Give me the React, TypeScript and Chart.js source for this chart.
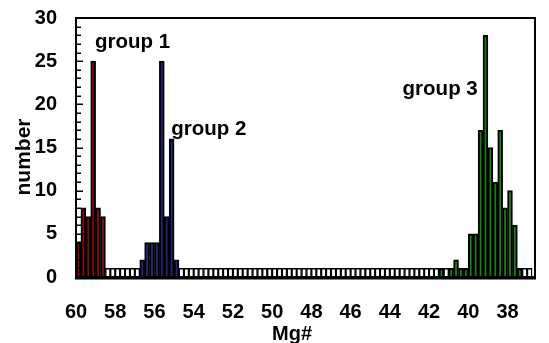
import { useEffect, useRef } from "react";
import { Chart, registerables } from "chart.js";

Chart.register(...registerables);

// Mg# bin centres (bins of 0.25, from 60 down to 36.75)
const mgBinCenters = [
  59.875, 59.625, 59.375, 59.125,
  58.875, 58.625, 58.375, 58.125,
  57.875, 57.625, 57.375, 57.125,
  56.875, 56.625, 56.375, 56.125,
  55.875, 55.625, 55.375, 55.125,
  54.875, 54.625, 54.375, 54.125,
  53.875, 53.625, 53.375, 53.125,
  52.875, 52.625, 52.375, 52.125,
  51.875, 51.625, 51.375, 51.125,
  50.875, 50.625, 50.375, 50.125,
  49.875, 49.625, 49.375, 49.125,
  48.875, 48.625, 48.375, 48.125,
  47.875, 47.625, 47.375, 47.125,
  46.875, 46.625, 46.375, 46.125,
  45.875, 45.625, 45.375, 45.125,
  44.875, 44.625, 44.375, 44.125,
  43.875, 43.625, 43.375, 43.125,
  42.875, 42.625, 42.375, 42.125,
  41.875, 41.625, 41.375, 41.125,
  40.875, 40.625, 40.375, 40.125,
  39.875, 39.625, 39.375, 39.125,
  38.875, 38.625, 38.375, 38.125,
  37.875, 37.625, 37.375, 37.125,
  36.875,
];

// counts per bin
const counts = [
  4, 8, 7, 25,
  8, 7, 1, 1,
  1, 1, 1, 1,
  1, 2, 4, 4,
  4, 25, 7, 16,
  2, 1, 1, 1,
  1, 1, 1, 1,
  1, 1, 1, 1,
  1, 1, 1, 1,
  1, 1, 1, 1,
  1, 1, 1, 1,
  1, 1, 1, 1,
  1, 1, 1, 1,
  1, 1, 1, 1,
  1, 1, 1, 1,
  1, 1, 1, 1,
  1, 1, 1, 1,
  1, 1, 1, 1,
  1, 1, 1, 1,
  1, 2, 1, 1,
  5, 5, 17, 28,
  15, 11, 17, 8,
  10, 6, 1, 1,
  1,
];

// group of each bin (0 = none)
const binGroups = [
  1, 1, 1, 1,
  1, 1, 0, 0,
  0, 0, 0, 0,
  0, 2, 2, 2,
  2, 2, 2, 2,
  2, 0, 0, 0,
  0, 0, 0, 0,
  0, 0, 0, 0,
  0, 0, 0, 0,
  0, 0, 0, 0,
  0, 0, 0, 0,
  0, 0, 0, 0,
  0, 0, 0, 0,
  0, 0, 0, 0,
  0, 0, 0, 0,
  0, 0, 0, 0,
  0, 0, 0, 0,
  0, 0, 0, 0,
  0, 0, 3, 0,
  3, 3, 3, 3,
  3, 3, 3, 3,
  3, 3, 3, 3,
  3, 3, 3, 0,
  0,
];

const xTickValues = [60, 58, 56, 54, 52, 50, 48, 46, 44, 42, 40, 38];
const yTickValues = [0, 5, 10, 15, 20, 25, 30];

const groupLabels = ["group 1", "group 2", "group 3"];
const groupLabelMg = [59.03, 55.15, 43.35];
const groupLabelCount = [27.2, 17.1, 21.7];

const groupFill = ["#ffffff", "#8a0a0a", "#24267c", "#178017"];
const FONT_FAMILY = "'Liberation Sans', Arial, sans-serif";

const decor = {
  id: "decor",
  afterDatasetsDraw(chart: any) {
    const { ctx, chartArea: a, scales } = chart;
    const xs = scales.x;
    const ys = scales.y;
    ctx.save();
    ctx.strokeStyle = "#000";
    ctx.lineWidth = 1.5;
    for (let v = 1; v < 30; v++) {
      const py = Math.round(ys.getPixelForValue(v)) + 0.25;
      const len = v % 5 === 0 ? 7 : 5;
      ctx.beginPath();
      ctx.moveTo(a.left, py);
      ctx.lineTo(a.left + len, py);
      ctx.stroke();
    }
    ctx.lineWidth = 2;
    ctx.strokeRect(a.left, a.top, a.right - a.left, a.bottom - a.top);
    ctx.lineWidth = 3;
    ctx.beginPath();
    ctx.moveTo(a.left - 1, a.bottom + 1);
    ctx.lineTo(a.right + 1, a.bottom + 1);
    ctx.stroke();

    ctx.fillStyle = "#000";
    ctx.font = `bold 20.5px ${FONT_FAMILY}`;
    ctx.textBaseline = "middle";
    ctx.textAlign = "left";
    groupLabels.forEach((t, k) => {
      ctx.fillText(t, xs.getPixelForValue(groupLabelMg[k]), ys.getPixelForValue(groupLabelCount[k]));
    });

    ctx.font = `bold 20px ${FONT_FAMILY}`;
    ctx.textAlign = "center";
    ctx.fillText("Mg#", 292, 334);
    ctx.save();
    ctx.translate(24, 157);
    ctx.rotate(-Math.PI / 2);
    ctx.font = `bold 21px ${FONT_FAMILY}`;
    ctx.fillText("number", 0, 0);
    ctx.restore();
    ctx.restore();
  },
};

export default function App() {
  const canvasRef = useRef<HTMLCanvasElement | null>(null);

  useEffect(() => {
    document.body.style.margin = "0";
    const canvas = canvasRef.current;
    if (!canvas) return;
    const tickFont = { family: FONT_FAMILY, size: 20, weight: "bold" as const };
    const chart = new Chart(canvas, {
      type: "bar",
      data: {
        datasets: [
          {
            data: mgBinCenters.map((m, i) => ({ x: m, y: counts[i] })),
            backgroundColor: binGroups.map((g) => groupFill[g]),
            borderColor: "#000",
            borderWidth: binGroups.map((g) => (g === 0 ? 1.4 : 1.95)),
            barPercentage: 1,
            categoryPercentage: 1,
          } as any,
        ],
      },
      options: {
        animation: false,
        responsive: true,
        maintainAspectRatio: false,
        layout: { padding: { top: 18, right: 14, left: 0, bottom: 0 } },
        plugins: { legend: { display: false }, tooltip: { enabled: false } },
        scales: {
          x: {
            type: "linear",
            reverse: true,
            offset: false,
            min: 36.6,
            max: 60,
            afterBuildTicks: (s: any) => {
              s.ticks = xTickValues.map((v) => ({ value: v }));
            },
            afterFit: (s: any) => {
              s.height = 66;
              s.paddingLeft = 0;
              s.paddingRight = 0;
            },
            grid: { display: false, drawTicks: false, offset: false },
            border: { display: false },
            ticks: {
              padding: 23,
              font: tickFont,
              color: "#000",
              autoSkip: false,
              maxRotation: 0,
              callback: (v: any) => String(v),
            },
          },
          y: {
            min: 0,
            max: 30,
            afterBuildTicks: (s: any) => {
              s.ticks = yTickValues.map((v) => ({ value: v }));
            },
            afterFit: (s: any) => {
              s.width = 76;
              s.paddingTop = 0;
              s.paddingBottom = 0;
            },
            grid: { display: false, drawTicks: false },
            border: { display: false },
            ticks: { padding: 19, font: tickFont, color: "#000" },
          },
        },
      } as any,
      plugins: [decor],
    });
    return () => chart.destroy();
  }, []);

  return (
    <div style={{ position: "fixed", left: 0, top: 0, width: 549, height: 343 }}>
      <canvas ref={canvasRef} />
    </div>
  );
}
